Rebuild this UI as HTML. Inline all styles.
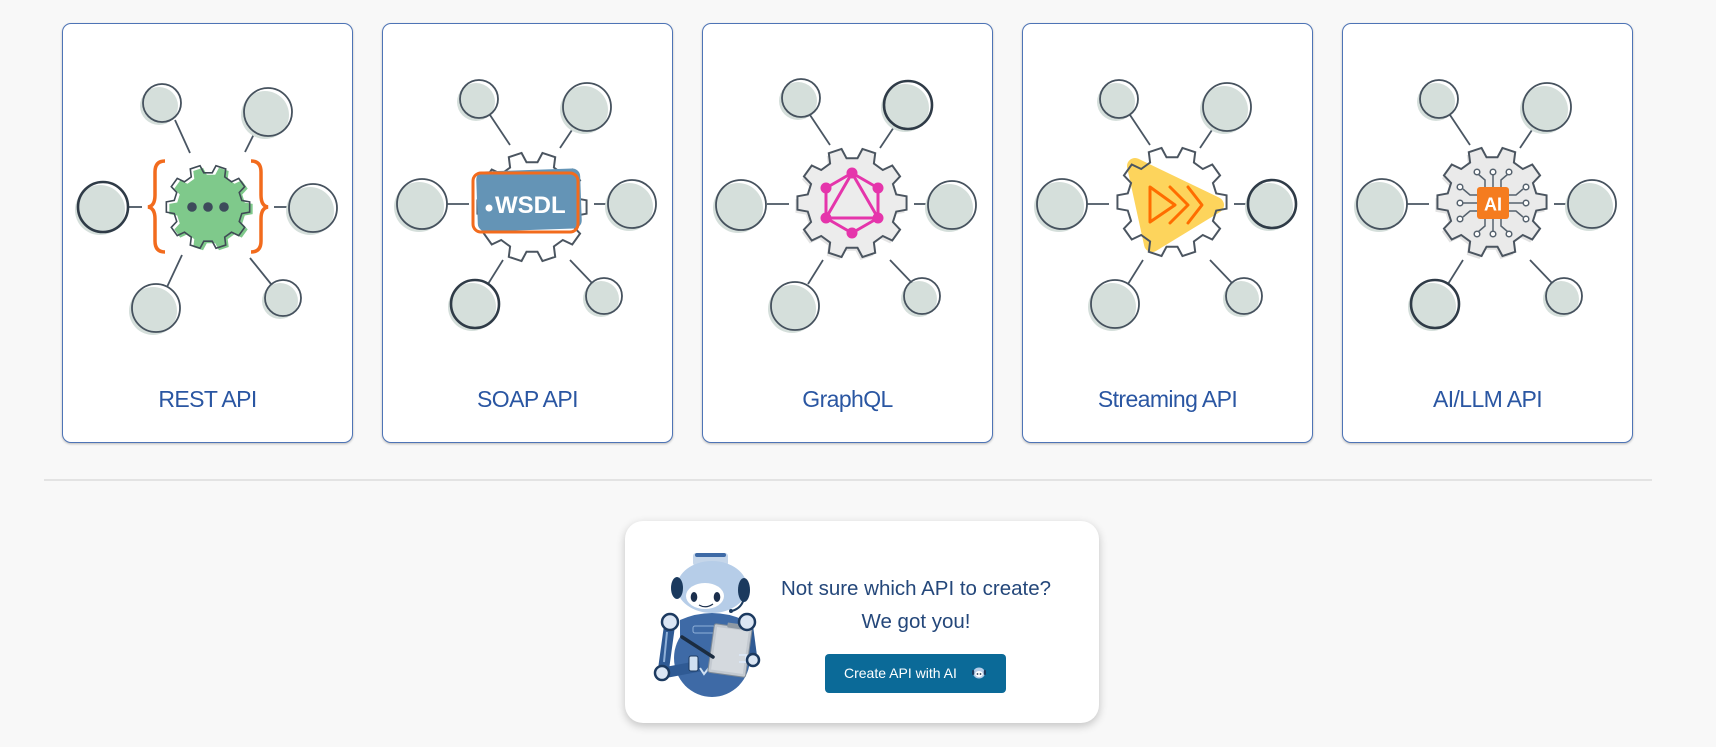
<!DOCTYPE html>
<html><head><meta charset="utf-8">
<style>
html,body{margin:0;padding:0;}
body{width:1716px;height:747px;background:#f8f8f8;position:relative;overflow:hidden;font-family:"Liberation Sans",sans-serif;}
.card{position:absolute;top:23px;width:291px;height:420px;box-sizing:border-box;border:1.5px solid #4e74b6;border-radius:9px;background:#fff;box-shadow:0 1px 2px rgba(0,0,0,.25);}
.card svg{position:absolute;left:-1.5px;top:-1.5px;overflow:visible;}
.lbl{font-family:"Liberation Sans",sans-serif;font-size:23px;fill:#2a56a2;letter-spacing:-0.6px;}
.divider{position:absolute;left:44px;top:479px;width:1608px;height:2px;background:#e3e3e3;}
.panel{position:absolute;left:625px;top:521px;width:474px;height:202px;background:#fff;border-radius:18px;box-shadow:0 3px 9px rgba(0,0,0,.22);}
.q{position:absolute;left:700px;width:432px;text-align:center;font-size:20.5px;color:#24477a;white-space:nowrap;}
.btn{position:absolute;left:825px;top:654px;width:181px;height:39px;background:#0b6a98;border-radius:4px;color:#fff;font-size:14px;line-height:39px;box-sizing:border-box;padding-left:19px;white-space:nowrap;}
.btn svg{position:absolute;left:146px;top:12px;}
.ln{stroke:#4a5663;stroke-width:1.8;fill:none;}
.sh{fill:#d5dfdb;}
.ol{fill:none;stroke:#46525e;stroke-width:1.8;}
.olt{fill:none;stroke:#2f3b47;stroke-width:2.6;}
</style></head>
<body>
<svg width="0" height="0" style="position:absolute"><defs>
<path id="gear" d="M40.2,-7.8 L49.6,-6.1 L49.6,6.1 L40.2,7.8 L37.2,17.3 L43.7,24.2 L36.6,34.1 L28,30 L19.9,35.9 L21.1,45.3 L9.5,49.1 L5,40.7 L-5,40.7 L-9.5,49.1 L-21.1,45.3 L-19.9,35.9 L-28,30 L-36.6,34.1 L-43.7,24.2 L-37.2,17.3 L-40.2,7.8 L-49.6,6.1 L-49.6,-6.1 L-40.2,-7.8 L-37.2,-17.3 L-43.7,-24.2 L-36.6,-34.1 L-28,-30 L-19.9,-35.9 L-21.1,-45.3 L-9.5,-49.1 L-5,-40.7 L5,-40.7 L9.5,-49.1 L21.1,-45.3 L19.9,-35.9 L28,-30 L36.6,-34.1 L43.7,-24.2 L37.2,-17.3 Z"/>
</defs></svg>

<!-- Card 1 REST -->
<div class="card" style="left:62px">
<svg width="291" height="420" viewBox="0 0 291 420">
<line class="ln" x1="113" y1="97" x2="128" y2="130"/>
<line class="ln" x1="193" y1="109" x2="183" y2="129"/>
<line class="ln" x1="66" y1="184" x2="80" y2="184"/>
<line class="ln" x1="212" y1="184" x2="226" y2="184"/>
<line class="ln" x1="120" y1="232" x2="105" y2="264"/>
<line class="ln" x1="188" y1="235" x2="209" y2="261"/>
<circle class="sh" cx="97" cy="83" r="19"/><circle class="ol" cx="100" cy="80" r="19"/>
<circle class="sh" cx="203" cy="92" r="24"/><circle class="ol" cx="206" cy="89" r="24"/>
<circle class="sh" cx="38" cy="187" r="25"/><circle class="olt" cx="41" cy="184" r="25"/>
<circle class="sh" cx="248" cy="188" r="24"/><circle class="ol" cx="251" cy="185" r="24"/>
<circle class="sh" cx="91" cy="288" r="24"/><circle class="ol" cx="94" cy="285" r="24"/>
<circle class="sh" cx="218" cy="278" r="18"/><circle class="ol" cx="221" cy="275" r="18"/>
<g transform="translate(146,184)">
<use href="#gear" transform="translate(3,2) scale(0.84)" fill="#7fc98b"/>
<use href="#gear" transform="scale(0.84)" fill="none" stroke="#3f4a55" stroke-width="1.9" vector-effect="non-scaling-stroke"/>
<circle cx="-16" cy="0" r="4.8" fill="#3d4b5b"/><circle cx="0" cy="0" r="4.8" fill="#3d4b5b"/><circle cx="16" cy="0" r="4.8" fill="#3d4b5b"/>
</g>
<path d="M103,138 Q93,138 93,149 L93,172 Q93,183 86,184 Q93,185 93,196 L93,218 Q93,229 103,229" fill="none" stroke="#f26b1d" stroke-width="3.5"/>
<path d="M189,138 Q199,138 199,149 L199,172 Q199,183 206,184 Q199,185 199,196 L199,218 Q199,229 189,229" fill="none" stroke="#f26b1d" stroke-width="3.5"/>
<text class="lbl" x="145.5" y="384" text-anchor="middle">REST API</text>
</svg></div>

<!-- Card 2 SOAP -->
<div class="card" style="left:382px">
<svg width="291" height="420" viewBox="0 0 291 420">
<line class="ln" x1="108" y1="92" x2="128" y2="122"/>
<line class="ln" x1="192" y1="104" x2="178" y2="125"/>
<line class="ln" x1="65" y1="181" x2="87" y2="181"/>
<line class="ln" x1="212" y1="181" x2="226" y2="181"/>
<line class="ln" x1="121" y1="237" x2="106" y2="261"/>
<line class="ln" x1="188" y1="237" x2="210" y2="260"/>
<circle class="sh" cx="94" cy="79" r="19"/><circle class="ol" cx="97" cy="76" r="19"/>
<circle class="sh" cx="202" cy="87" r="24"/><circle class="ol" cx="205" cy="84" r="24"/>
<circle class="sh" cx="37" cy="184" r="25"/><circle class="ol" cx="40" cy="181" r="25"/>
<circle class="sh" cx="247" cy="184" r="24"/><circle class="ol" cx="250" cy="181" r="24"/>
<circle class="sh" cx="90" cy="284" r="24"/><circle class="olt" cx="93" cy="281" r="24"/>
<circle class="sh" cx="219" cy="276" r="18"/><circle class="ol" cx="222" cy="273" r="18"/>
<g transform="translate(150,184)">
<use href="#gear" transform="scale(1.1)" fill="#fff" stroke="#4b5560" stroke-width="1.8" vector-effect="non-scaling-stroke"/>
</g>
<rect x="95" y="147" width="104" height="60" rx="8" fill="#6494b6" transform="rotate(-2 147 177)"/>
<rect x="91" y="150" width="105" height="59" rx="8" fill="none" stroke="#f26b1d" stroke-width="3"/>
<circle cx="107" cy="185" r="3.5" fill="#fff"/>
<text x="113" y="190" font-family="Liberation Sans, sans-serif" font-weight="bold" font-size="24" fill="#fff">WSDL</text>
<text class="lbl" x="145.5" y="384" text-anchor="middle">SOAP API</text>
</svg></div>

<!-- Card 3 GraphQL -->
<div class="card" style="left:702px">
<svg width="291" height="420" viewBox="0 0 291 420">
<line class="ln" x1="108" y1="92" x2="128" y2="122"/>
<line class="ln" x1="192" y1="104" x2="178" y2="125"/>
<line class="ln" x1="65" y1="181" x2="87" y2="181"/>
<line class="ln" x1="212" y1="181" x2="226" y2="181"/>
<line class="ln" x1="121" y1="237" x2="106" y2="261"/>
<line class="ln" x1="188" y1="237" x2="210" y2="260"/>
<circle class="sh" cx="96" cy="78" r="19"/><circle class="ol" cx="99" cy="75" r="19"/>
<circle class="sh" cx="203" cy="85" r="24"/><circle class="olt" cx="206" cy="82" r="24"/>
<circle class="sh" cx="36" cy="185" r="25"/><circle class="ol" cx="39" cy="182" r="25"/>
<circle class="sh" cx="247" cy="185" r="24"/><circle class="ol" cx="250" cy="182" r="24"/>
<circle class="sh" cx="90" cy="286" r="24"/><circle class="ol" cx="93" cy="283" r="24"/>
<circle class="sh" cx="217" cy="276" r="18"/><circle class="ol" cx="220" cy="273" r="18"/>
<g transform="translate(150,180)">
<use href="#gear" transform="translate(-2,3) scale(1.1)" fill="#e4e4e4"/>
<use href="#gear" transform="scale(1.1)" fill="#ececec" stroke="#4b5560" stroke-width="1.8" vector-effect="non-scaling-stroke"/>
<g stroke="#e535ab" stroke-width="3" fill="none" stroke-linejoin="round">
<polygon points="0,-30 26,-15 26,15 0,30 -26,15 -26,-15"/>
<polygon points="0,-30 26,15 -26,15"/>
</g>
<g fill="#e535ab">
<circle cx="0" cy="-30" r="5.5"/><circle cx="26" cy="-15" r="5.5"/><circle cx="26" cy="15" r="5.5"/>
<circle cx="0" cy="30" r="5.5"/><circle cx="-26" cy="15" r="5.5"/><circle cx="-26" cy="-15" r="5.5"/>
</g>
</g>
<text class="lbl" x="145.5" y="384" text-anchor="middle">GraphQL</text>
</svg></div>

<!-- Card 4 Streaming -->
<div class="card" style="left:1022px">
<svg width="291" height="420" viewBox="0 0 291 420">
<line class="ln" x1="108" y1="92" x2="128" y2="122"/>
<line class="ln" x1="192" y1="104" x2="178" y2="125"/>
<line class="ln" x1="65" y1="181" x2="87" y2="181"/>
<line class="ln" x1="212" y1="181" x2="226" y2="181"/>
<line class="ln" x1="121" y1="237" x2="106" y2="261"/>
<line class="ln" x1="188" y1="237" x2="210" y2="260"/>
<circle class="sh" cx="94" cy="79" r="19"/><circle class="ol" cx="97" cy="76" r="19"/>
<circle class="sh" cx="202" cy="87" r="24"/><circle class="ol" cx="205" cy="84" r="24"/>
<circle class="sh" cx="37" cy="184" r="25"/><circle class="ol" cx="40" cy="181" r="25"/>
<circle class="sh" cx="247" cy="184" r="24"/><circle class="olt" cx="250" cy="181" r="24"/>
<circle class="sh" cx="90" cy="284" r="24"/><circle class="ol" cx="93" cy="281" r="24"/>
<circle class="sh" cx="219" cy="276" r="18"/><circle class="ol" cx="222" cy="273" r="18"/>
<g transform="translate(150,179)">
<use href="#gear" transform="scale(1.1)" fill="#fff"/>
</g>
<polygon points="113,143 130,221 194,182" fill="#fdd45c" stroke="#fdd45c" stroke-width="16" stroke-linejoin="round"/>
<g transform="translate(150,179)">
<use href="#gear" transform="scale(1.1)" fill="none" stroke="#4b5560" stroke-width="1.8" vector-effect="non-scaling-stroke"/>
</g>
<g fill="none" stroke="#ff6d00" stroke-width="3" stroke-linejoin="round" stroke-linecap="round">
<polygon points="128,164 153,182 128,199"/>
<polyline points="148,164 166,182 148,200"/>
<polyline points="166,164 180,182 166,200"/>
</g>
<text class="lbl" x="145.5" y="384" text-anchor="middle">Streaming API</text>
</svg></div>

<!-- Card 5 AI -->
<div class="card" style="left:1342px">
<svg width="291" height="420" viewBox="0 0 291 420">
<line class="ln" x1="108" y1="92" x2="128" y2="122"/>
<line class="ln" x1="192" y1="104" x2="178" y2="125"/>
<line class="ln" x1="65" y1="181" x2="87" y2="181"/>
<line class="ln" x1="212" y1="181" x2="226" y2="181"/>
<line class="ln" x1="121" y1="237" x2="106" y2="261"/>
<line class="ln" x1="188" y1="237" x2="210" y2="260"/>
<circle class="sh" cx="94" cy="79" r="19"/><circle class="ol" cx="97" cy="76" r="19"/>
<circle class="sh" cx="202" cy="87" r="24"/><circle class="ol" cx="205" cy="84" r="24"/>
<circle class="sh" cx="37" cy="184" r="25"/><circle class="ol" cx="40" cy="181" r="25"/>
<circle class="sh" cx="247" cy="184" r="24"/><circle class="ol" cx="250" cy="181" r="24"/>
<circle class="sh" cx="90" cy="284" r="24"/><circle class="olt" cx="93" cy="281" r="24"/>
<circle class="sh" cx="219" cy="276" r="18"/><circle class="ol" cx="222" cy="273" r="18"/>
<g transform="translate(150,179)">
<use href="#gear" transform="translate(-2,3) scale(1.1)" fill="#e2e2e2"/>
<use href="#gear" transform="scale(1.1)" fill="#eaeaea" stroke="#4b5560" stroke-width="1.8" vector-effect="non-scaling-stroke"/>
</g>
<g fill="none" stroke="#56626e" stroke-width="1.5">
<path d="M143,164 V157 L136,151 M151,164 V152 M159,164 V157 L166,151"/>
<path d="M143,196 V203 L136,209 M151,196 V209 M159,196 V203 L166,209"/>
<path d="M135,172 H128 L121,166 M135,180 H121 M135,188 H128 L121,194"/>
<path d="M167,172 H174 L181,166 M167,180 H181 M167,188 H174 L181,194"/>
</g>
<g fill="#fff" stroke="#56626e" stroke-width="1.5">
<circle cx="135" cy="149" r="2.8"/><circle cx="151" cy="149" r="2.8"/><circle cx="167" cy="149" r="2.8"/>
<circle cx="135" cy="211" r="2.8"/><circle cx="151" cy="211" r="2.8"/><circle cx="167" cy="211" r="2.8"/>
<circle cx="118" cy="164" r="2.8"/><circle cx="118" cy="180" r="2.8"/><circle cx="118" cy="196" r="2.8"/>
<circle cx="184" cy="164" r="2.8"/><circle cx="184" cy="180" r="2.8"/><circle cx="184" cy="196" r="2.8"/>
</g>
<rect x="135" y="164" width="32" height="32" rx="3" fill="#f57c1f"/>
<text x="151" y="187.5" text-anchor="middle" font-family="Liberation Sans, sans-serif" font-weight="bold" font-size="18" fill="#fff">AI</text>
<text class="lbl" x="145.5" y="384" text-anchor="middle">AI/LLM API</text>
</svg></div>

<div class="divider"></div>

<div class="panel"></div>

<svg style="position:absolute;left:640px;top:540px" width="130" height="170" viewBox="0 0 130 170">
<ellipse cx="72" cy="118" rx="38" ry="39" fill="#3e6aa6"/>
<path d="M40,80 Q72,66 104,80 L104,100 L40,100 Z" fill="#3e6aa6"/>
<rect x="53" y="86" width="22" height="7" rx="2" fill="none" stroke="#8fb0d8" stroke-width="1"/>
<path d="M30,82 L23,133 L60,126" fill="none" stroke="#2f5a94" stroke-width="11" stroke-linejoin="round"/>
<line x1="27" y1="92" x2="24" y2="122" stroke="#8fb0d8" stroke-width="2"/>
<rect x="49" y="116" width="9" height="15" rx="2" fill="#cfe0f2" stroke="#1c3a60" stroke-width="1"/>
<path d="M60,128 L64,134 L72,124" fill="none" stroke="#cfe0f2" stroke-width="2"/>
<circle cx="22" cy="133" r="7" fill="#dbe6f4" stroke="#1c3a60" stroke-width="2.5"/>
<path d="M107,82 L112,120" fill="none" stroke="#2f5a94" stroke-width="11"/>
<g transform="rotate(8 90 110)">
<rect x="71" y="86" width="38" height="49" rx="2" fill="#c3c9d0" stroke="#7e8a96" stroke-width="1"/>
<rect x="74" y="89" width="32" height="43" fill="#d4d9de"/>
<rect x="84" y="83" width="14" height="5" rx="1" fill="#8e99a4"/>
</g>
<path d="M99,115 H106 V122 H99" fill="none" stroke="#dbe6f4" stroke-width="2"/>
<line x1="42" y1="97" x2="73" y2="117" stroke="#1b2c40" stroke-width="3.5" stroke-linecap="round"/>
<circle cx="113" cy="120" r="6" fill="#dbe6f4" stroke="#1c3a60" stroke-width="2.5"/>
<circle cx="30" cy="82" r="8" fill="#dbe6f4" stroke="#1c3a60" stroke-width="2.5"/>
<circle cx="107" cy="82" r="8" fill="#dbe6f4" stroke="#1c3a60" stroke-width="2.5"/>
<rect x="53" y="13" width="35" height="13" rx="3" fill="#c5d6ea"/>
<rect x="55" y="13" width="31" height="4" rx="2" fill="#3e6aa6"/>
<ellipse cx="72" cy="47" rx="35" ry="26" fill="#b6cde8"/>
<ellipse cx="65" cy="56" rx="19" ry="13" fill="#fff"/>
<ellipse cx="54" cy="57" rx="3.3" ry="5" fill="#1b2f4d"/>
<ellipse cx="77" cy="57" rx="3.3" ry="5" fill="#1b2f4d"/>
<path d="M59,65 Q66,69 73,64" fill="none" stroke="#1b2f4d" stroke-width="1.2"/>
<ellipse cx="37" cy="48" rx="6" ry="11" fill="#1b3a5e"/>
<ellipse cx="104" cy="50" rx="6" ry="12" fill="#1b3a5e"/>
<path d="M104,58 Q102,68 92,71" fill="none" stroke="#1b3a5e" stroke-width="2"/>
<circle cx="91" cy="71" r="2" fill="#1b3a5e"/>
</svg>

<div class="q" style="top:577px;">Not sure which API to create?</div>
<div class="q" style="top:610px;">We got you!</div>

<div class="btn">Create API with AI
<svg width="16" height="14" viewBox="0 0 16 14">
<ellipse cx="8" cy="7" rx="6" ry="5.5" fill="#b6cde8"/>
<ellipse cx="8" cy="8" rx="3.8" ry="3" fill="#fff"/>
<rect x="1" y="4" width="2.2" height="5" rx="1" fill="#1b3a5e"/>
<rect x="12.8" y="4" width="2.2" height="5" rx="1" fill="#1b3a5e"/>
<circle cx="6.5" cy="8" r="0.9" fill="#1b2f4d"/><circle cx="9.5" cy="8" r="0.9" fill="#1b2f4d"/>
</svg>
</div>

</body></html>
